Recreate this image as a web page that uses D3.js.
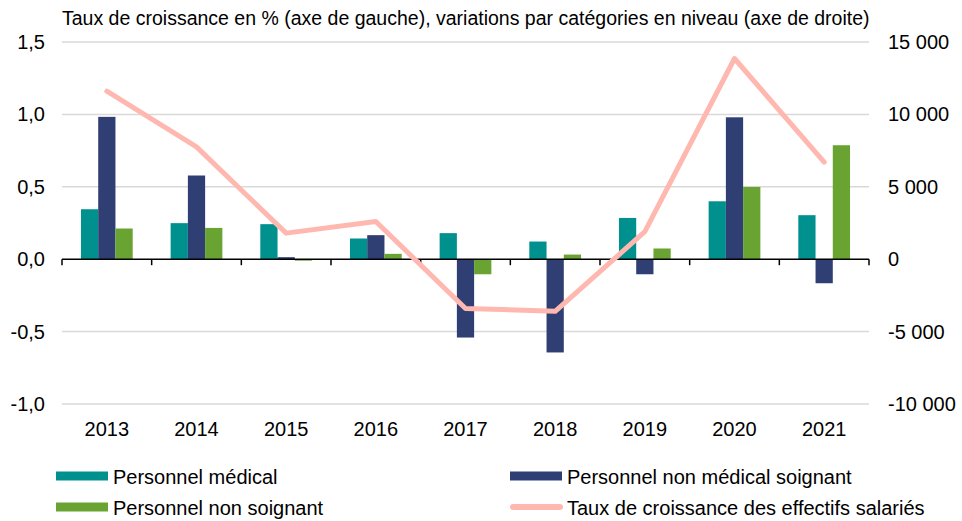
<!DOCTYPE html>
<html>
<head>
<meta charset="utf-8">
<title>Effectifs salariés</title>
<script src="https://d3js.org/d3.v7.min.js"></script>
<style>
  body { margin: 0; background: #fff; }
  text { font-family: "Liberation Sans", Arial, sans-serif; fill: #000; }
</style>
</head>
<body>
<svg width="962" height="521"></svg>
<script>
const years = ["2013", "2014", "2015", "2016", "2017", "2018", "2019", "2020", "2021"]
const medical = [3450, 2490, 2420, 1430, 1800, 1220, 2850, 4000, 3040]
const nonMedSoignant = [9830, 5780, 140, 1660, -5410, -6440, -1040, 9800, -1660]
const nonSoignant = [2120, 2160, -100, 370, -1040, 320, 740, 4990, 7870]
const croissance = [1.16, 0.776, 0.18, 0.26, -0.34, -0.36, 0.19, 1.386, 0.67]
const leftTicks = [-1, -0.5, 0, 0.5, 1, 1.5]
const rightTicks = [-10000, -5000, 0, 5000, 10000, 15000]

const series = [
  { name: "Personnel médical", values: medical, color: "#00918F" },
  { name: "Personnel non médical soignant", values: nonMedSoignant, color: "#2F3F73" },
  { name: "Personnel non soignant", values: nonSoignant, color: "#69A433" }
]
const lineColor = "#FFB8AF"

const svg = d3.select("svg")
const plot = { left: 62, right: 869, top: 42, bottom: 404 }

const x = d3.scaleBand().domain(years).range([plot.left, plot.right]).paddingInner(0).paddingOuter(0)
const inner = d3.scaleBand().domain(d3.range(3)).range([0, x.bandwidth()]).paddingOuter(1.1).paddingInner(0)
const yL = d3.scaleLinear().domain([-1, 1.5]).range([plot.bottom, plot.top])
const yR = d3.scaleLinear().domain([-10000, 15000]).range([plot.bottom, plot.top])

const fmtL = d => d3.format(".1f")(d).replace(".", ",").replace("−", "-")
const fmtR = d => d3.format(",")(d).replace(/,/g, " ").replace("−", "-")

// gridlines
svg.append("g").selectAll("line").data(leftTicks.filter(d => d !== 0)).join("line")
  .attr("x1", plot.left).attr("x2", plot.right)
  .attr("y1", d => yL(d)).attr("y2", d => yL(d))
  .attr("stroke", "#D9D9D9").attr("stroke-width", 1.5)

// left axis labels
const axL = d3.axisLeft(yL).tickValues(leftTicks).tickFormat(fmtL).tickSize(0).tickPadding(17)
const gL = svg.append("g").attr("transform", `translate(${plot.left},0)`).call(axL)
gL.select(".domain").remove()
gL.selectAll("text").style("font-size", "20px").attr("fill", "#000")

// right axis labels
const axR = d3.axisRight(yR).tickValues(rightTicks).tickFormat(fmtR).tickSize(0).tickPadding(19)
const gR = svg.append("g").attr("transform", `translate(${plot.right},0)`).call(axR)
gR.select(".domain").remove()
gR.selectAll("text").style("font-size", "20px").attr("fill", "#000")

// bars
series.forEach((s, i) => {
  svg.append("g").selectAll("rect").data(s.values).join("rect")
    .attr("x", (d, j) => x(years[j]) + inner(i))
    .attr("width", inner.bandwidth())
    .attr("y", d => Math.min(yR(d), yR(0)))
    .attr("height", d => Math.abs(yR(d) - yR(0)))
    .attr("fill", s.color)
})

// x axis
const gX = svg.append("g").attr("transform", `translate(0,${yL(0)})`)
gX.append("line").attr("x1", plot.left).attr("x2", plot.right).attr("stroke", "#000").attr("stroke-width", 1.5)
gX.selectAll(".tk").data(years.concat(["end"])).join("line")
  .attr("x1", (d, i) => plot.left + i * x.bandwidth()).attr("x2", (d, i) => plot.left + i * x.bandwidth())
  .attr("y1", 0).attr("y2", 6).attr("stroke", "#000").attr("stroke-width", 1.5)

svg.append("g").selectAll("text").data(years).join("text")
  .attr("x", d => x(d) + x.bandwidth() / 2)
  .attr("y", 436)
  .attr("text-anchor", "middle")
  .style("font-size", "20px")
  .text(d => d)

// line
const line = d3.line()
  .x((d, i) => x(years[i]) + x.bandwidth() / 2)
  .y(d => yL(d))
svg.append("path").datum(croissance)
  .attr("d", line)
  .attr("fill", "none")
  .attr("stroke", lineColor)
  .attr("stroke-width", 5)
  .attr("stroke-linecap", "round")
  .attr("stroke-linejoin", "round")

// title
svg.append("text").attr("x", 62).attr("y", 25)
  .style("font-size", "19.5px")
  .text("Taux de croissance en % (axe de gauche), variations par catégories en niveau (axe de droite)")

// legend
const legend = [
  { name: series[0].name, color: series[0].color, type: "rect", x: 56, y: 476 },
  { name: series[1].name, color: series[1].color, type: "rect", x: 510, y: 476 },
  { name: series[2].name, color: series[2].color, type: "rect", x: 56, y: 507 },
  { name: "Taux de croissance des effectifs salariés", color: lineColor, type: "line", x: 510, y: 507 }
]
const lg = svg.append("g").selectAll("g").data(legend).join("g")
  .attr("transform", d => `translate(${d.x},${d.y})`)
lg.filter(d => d.type === "rect").append("rect")
  .attr("x", 0).attr("y", -4.5).attr("width", 52).attr("height", 9).attr("fill", d => d.color)
lg.filter(d => d.type === "line").append("line")
  .attr("x1", 3).attr("x2", 50).attr("y1", 0).attr("y2", 0)
  .attr("stroke", d => d.color).attr("stroke-width", 6).attr("stroke-linecap", "round")
lg.append("text").attr("x", 57).attr("y", 7.5)
  .style("font-size", "20px")
  .text(d => d.name)
</script>
</body>
</html>
